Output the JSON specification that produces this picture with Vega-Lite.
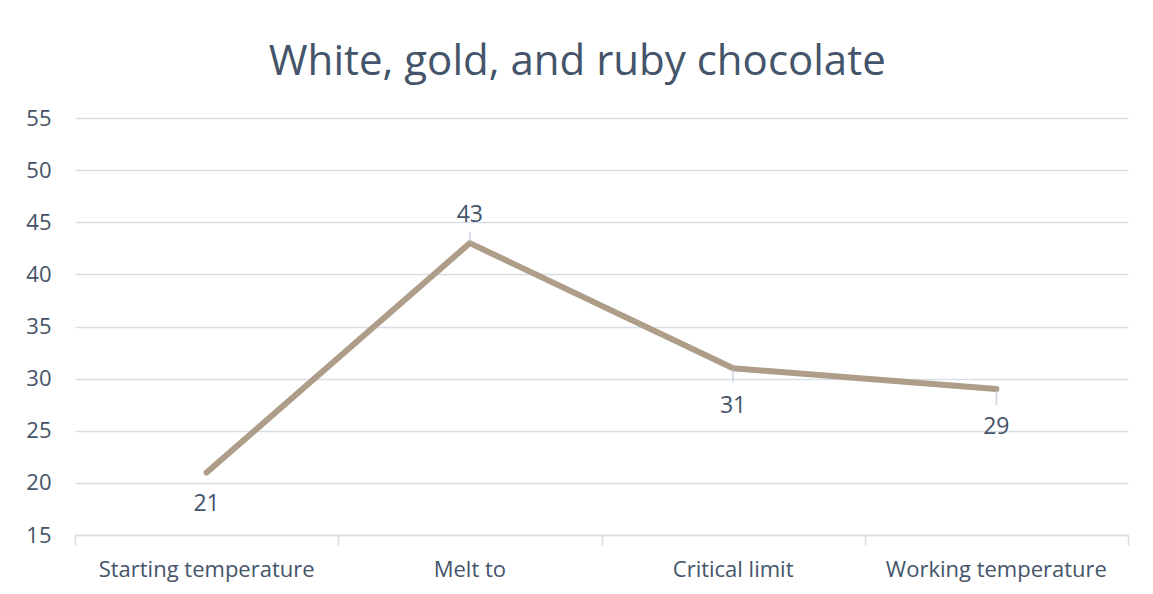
{
  "$schema": "https://vega.github.io/schema/vega-lite/v6.json",
  "autosize": {"type": "none"},
  "width": 1053,
  "height": 417,
  "padding": {"left": 75, "top": 118, "right": 25, "bottom": 59},
  "background": "white",
  "title": {
    "text": "White, gold, and ruby chocolate",
    "font": "Open Sans",
    "fontSize": 42,
    "fontWeight": "normal",
    "color": "#44546A",
    "anchor": "middle",
    "frame": "bounds",
    "baseline": "alphabetic",
    "offset": -10
  },
  "config": {
    "view": {"stroke": null},
    "axis": {"labelFont": "Open Sans", "labelColor": "#44546A", "labelFontSize": 22, "labelLimit": 0}
  },
  "data": {
    "values": [
      {"stage": "Starting temperature", "temp": 21},
      {"stage": "Melt to", "temp": 43},
      {"stage": "Critical limit", "temp": 31},
      {"stage": "Working temperature", "temp": 29}
    ]
  },
  "resolve": {"scale": {"x": "independent"}, "axis": {"x": "independent"}},
  "layer": [
    {
      "mark": {"type": "rule", "opacity": 0},
      "encoding": {
        "x": {
          "datum": 0,
          "type": "quantitative",
          "scale": {"domain": [0, 4], "nice": false, "zero": false},
          "axis": {
            "orient": "bottom",
            "values": [0, 1, 2, 3, 4],
            "labels": false,
            "grid": false,
            "title": null,
            "domain": true,
            "domainColor": "#D9DEE6",
            "domainWidth": 1.5,
            "ticks": true,
            "tickColor": "#D9DEE6",
            "tickWidth": 1.5,
            "tickSize": 10
          }
        }
      }
    },
    {
      "encoding": {
        "x": {
          "field": "stage",
          "type": "nominal",
          "sort": null,
          "scale": {"paddingInner": 0, "paddingOuter": 0},
          "axis": {
            "orient": "bottom",
            "title": null,
            "labelAngle": 0,
            "domain": false,
            "ticks": false,
            "grid": false,
            "labelPadding": 24
          }
        },
        "y": {
          "field": "temp",
          "type": "quantitative",
          "scale": {"domain": [15, 55], "nice": false, "zero": false},
          "axis": {
            "title": null,
            "values": [15, 20, 25, 30, 35, 40, 45, 50, 55],
            "domain": false,
            "ticks": false,
            "labelPadding": 24,
            "gridColor": "#D9DEE6",
            "gridWidth": 1.5
          }
        }
      },
      "layer": [
        {
          "mark": {"type": "line", "color": "#AE9D89", "strokeWidth": 6, "strokeCap": "round", "strokeJoin": "round"}
        },
        {
          "transform": [{"filter": "datum.temp == 43"}],
          "mark": {"type": "tick", "orient": "vertical", "size": 11, "thickness": 1.5, "color": "#B4C0D0", "yOffset": -6}
        },
        {
          "transform": [{"filter": "datum.temp == 31"}],
          "mark": {"type": "tick", "orient": "vertical", "size": 14, "thickness": 1.5, "color": "#B4C0D0", "yOffset": 7}
        },
        {
          "transform": [{"filter": "datum.temp == 29"}],
          "mark": {"type": "tick", "orient": "vertical", "size": 16, "thickness": 1.5, "color": "#B4C0D0", "yOffset": 8}
        },
        {
          "transform": [{"filter": "datum.temp == 43"}],
          "mark": {"type": "text", "font": "Open Sans", "fontSize": 23, "color": "#44546A", "baseline": "middle", "dy": -28},
          "encoding": {"text": {"field": "temp"}}
        },
        {
          "transform": [{"filter": "datum.temp == 21"}],
          "mark": {"type": "text", "font": "Open Sans", "fontSize": 23, "color": "#44546A", "baseline": "middle", "dy": 32},
          "encoding": {"text": {"field": "temp"}}
        },
        {
          "transform": [{"filter": "datum.temp == 31 || datum.temp == 29"}],
          "mark": {"type": "text", "font": "Open Sans", "fontSize": 23, "color": "#44546A", "baseline": "middle", "dy": 38},
          "encoding": {"text": {"field": "temp"}}
        }
      ]
    }
  ]
}
